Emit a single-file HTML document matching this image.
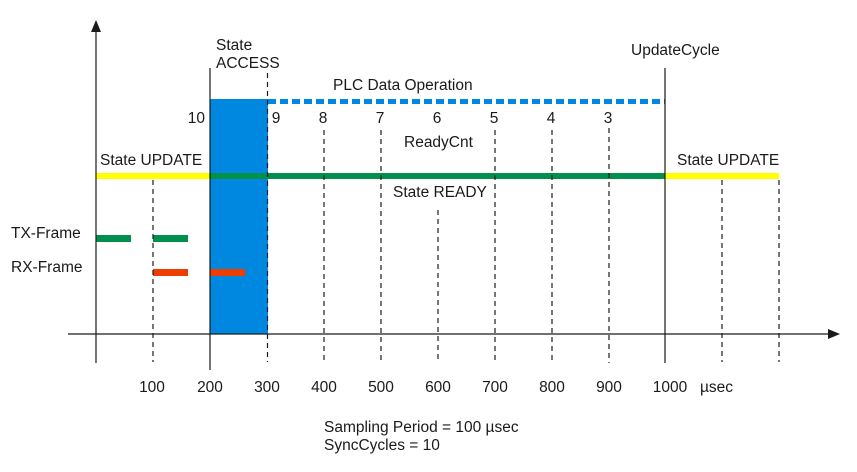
<!DOCTYPE html>
<html><head><meta charset="utf-8"><style>
html,body{margin:0;padding:0;background:#fff}
svg{display:block}
text{font-family:"Liberation Sans",Arial,sans-serif;font-size:15.5px;fill:#1a1a1a}
</style></head><body>
<svg width="857" height="472" viewBox="0 0 857 472" xmlns="http://www.w3.org/2000/svg">
<rect x="210" y="99" width="58" height="235" fill="#0088e0"/>
<line x1="268" y1="101.5" x2="665" y2="101.5" stroke="#0088e0" stroke-width="5" stroke-dasharray="8,4"/>
<rect x="96" y="173" width="114" height="6" fill="#ffff00"/>
<rect x="210" y="173" width="455" height="6" fill="#008f4c"/>
<rect x="665" y="173" width="114" height="6" fill="#ffff00"/>
<rect x="96" y="235" width="35" height="7" fill="#008f4c"/>
<rect x="153" y="235" width="35" height="7" fill="#008f4c"/>
<rect x="153" y="269" width="35" height="7" fill="#ee3d00"/>
<rect x="210" y="269" width="35" height="7" fill="#ee3d00"/>
<g stroke="#1a1a1a" stroke-width="1.2" fill="none">
<line x1="96" y1="28" x2="96" y2="363"/>
<line x1="68" y1="334" x2="830" y2="334"/>
<line x1="210" y1="68" x2="210" y2="370"/>
<line x1="665" y1="68" x2="665" y2="363"/>
</g>
<polygon points="96,20 91,32 101,32" fill="#1a1a1a"/>
<polygon points="840,334 828,329 828,339" fill="#1a1a1a"/>
<g stroke="#1a1a1a" stroke-width="1.2" stroke-dasharray="5,4">
<line x1="153" y1="180" x2="153" y2="362"/>
<line x1="267.5" y1="73" x2="267.5" y2="362"/>
<line x1="324" y1="130" x2="324" y2="363"/>
<line x1="381" y1="130" x2="381" y2="363"/>
<line x1="438" y1="210" x2="438" y2="363"/>
<line x1="495" y1="130" x2="495" y2="363"/>
<line x1="552" y1="130" x2="552" y2="363"/>
<line x1="609" y1="128" x2="609" y2="363"/>
<line x1="722" y1="180" x2="722" y2="362"/>
<line x1="779" y1="180" x2="779" y2="362"/>
</g>
<text x="216" y="50">State</text>
<text x="216" y="68">ACCESS</text>
<text x="333" y="90">PLC Data Operation</text>
<text x="631" y="55">UpdateCycle</text>
<text x="205" y="123" text-anchor="end">10</text>
<g text-anchor="middle">
<text x="276" y="123">9</text>
<text x="323" y="123">8</text>
<text x="380" y="123">7</text>
<text x="437" y="123">6</text>
<text x="494" y="123">5</text>
<text x="551" y="123">4</text>
<text x="608" y="123">3</text>
<text x="152" y="392">100</text>
<text x="210" y="392">200</text>
<text x="267" y="392">300</text>
<text x="324" y="392">400</text>
<text x="381" y="392">500</text>
<text x="438" y="392">600</text>
<text x="495" y="392">700</text>
<text x="552" y="392">800</text>
<text x="609" y="392">900</text>
<text x="670" y="392">1000</text>
</g>
<text x="404" y="147">ReadyCnt</text>
<text x="100" y="165">State UPDATE</text>
<text x="677" y="165">State UPDATE</text>
<text x="393" y="197">State READY</text>
<text x="11" y="238">TX-Frame</text>
<text x="11" y="272">RX-Frame</text>
<text x="700" y="392">µsec</text>
<text x="324" y="432">Sampling Period = 100 µsec</text>
<text x="324" y="450">SyncCycles = 10</text>
</svg>
</body></html>
